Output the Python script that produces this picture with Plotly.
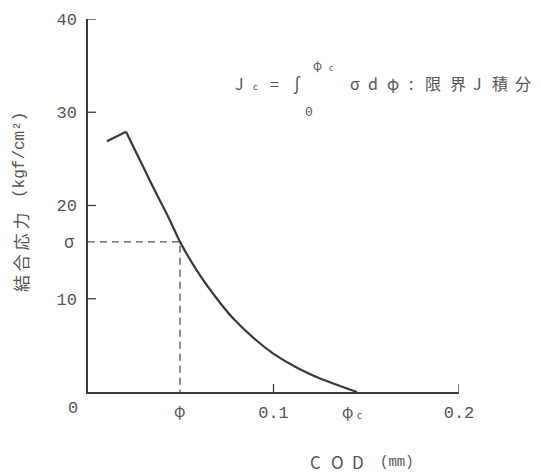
import plotly.graph_objects as go

# Cohesive stress vs. crack opening displacement
rise_cod = [0.0102, 0.0205]
rise_stress = [26.9, 27.9]
fall_cod = [0.0205, 0.035, 0.0442, 0.0496, 0.0604, 0.0695, 0.0782, 0.0889, 0.0997, 0.1127, 0.1251, 0.1358, 0.145]
fall_stress = [27.9, 22.0, 18.4, 16.1, 12.5, 10.0, 7.9, 5.85, 4.15, 2.6, 1.45, 0.65, 0.0]

phi_point = 0.0496
sigma_point = 16.1
phi_c = 0.145

y_ticks = [10, 20, 30, 40]
x_ticks = [0.1, 0.2]
x_ticklabels = ["0.1", "0.2"]

FONT = "Noto Sans CJK JP"
MONO = "Liberation Mono"
INK = "#3a3a3a"
TXT = "#555555"

# plot-area geometry (pixels) used to place free text
L, R, T, B = 88, 459, 19, 392
TICK = 8  # tick length in pixels


def px(xp, yp):
    return (xp - L) / (R - L), (B - yp) / (B - T)


fig = go.Figure()

# dashed guides for sigma at phi
fig.add_trace(go.Scatter(x=[0, phi_point, phi_point], y=[sigma_point, sigma_point, 0],
                         mode="lines", line=dict(color="#555", width=1.3, dash="7px,5px"),
                         hoverinfo="skip", showlegend=False))

fig.add_trace(go.Scatter(x=rise_cod, y=rise_stress, mode="lines",
                         line=dict(color=INK, width=2.2), showlegend=False))
fig.add_trace(go.Scatter(x=fall_cod, y=fall_stress, mode="lines",
                         line=dict(color=INK, width=2.2, shape="spline", smoothing=0.6),
                         showlegend=False))

# inward tick marks on both axes
for v in y_ticks:
    fig.add_shape(type="line", xref="paper", yref="y", x0=0, x1=TICK / (R - L),
                  y0=v, y1=v, line=dict(color=INK, width=1.3))
for v in x_ticks:
    fig.add_shape(type="line", xref="x", yref="paper", x0=v, x1=v,
                  y0=0, y1=TICK / (B - T), line=dict(color=INK, width=1.3))

fig.update_layout(
    width=541, height=474,
    margin=dict(l=L, r=541 - R, t=T, b=474 - B),
    plot_bgcolor="white", paper_bgcolor="white",
    font=dict(family=MONO, color=TXT, size=17),
    xaxis=dict(range=[0, 0.2], showgrid=False, zeroline=False, showline=True,
               linecolor=INK, linewidth=1.5, ticks="", tickvals=x_ticks, ticktext=x_ticklabels,
               ticklabelstandoff=4, tickfont=dict(family=MONO, size=17, color=TXT)),
    yaxis=dict(range=[0, 40], showgrid=False, zeroline=False, showline=True,
               linecolor=INK, linewidth=1.5, ticks="", tickvals=y_ticks,
               ticklabelstandoff=6, tickfont=dict(family=MONO, size=17, color=TXT)),
)


def text(xp, yp, s, size=16, anchor="center", angle=0, family=FONT):
    x, y = px(xp, yp)
    fig.add_annotation(x=x, y=y, xref="paper", yref="paper", text=s, showarrow=False,
                       xanchor=anchor, yanchor="middle", textangle=angle,
                       font=dict(family=family, size=size, color=TXT))


# origin, sigma and phi labels
text(73, 408, "0", size=17, family=MONO)
text(69, 241, "σ", size=17)
text(179, 410, "φ", size=15)
text(347, 411, "φ", size=15)
text(359, 414, "c", size=10)

# y-axis title
text(20, 253, "結 合 応 力", size=17, angle=-90)
text(20, 155, "(kgf/cm²)", size=16, angle=-90, family=MONO)

# x-axis title
for xp, ch in [(315, "C"), (337, "O"), (358, "D")]:
    text(xp, 462, ch, size=17)
text(397, 462, "(mm)", size=14, family=MONO)

# critical J-integral formula
text(239, 83, "J", size=16)
text(255, 86, "c", size=9)
text(274, 83, "=", size=16)
text(297, 84, "∫", size=18)
text(317, 65, "φ", size=12)
text(331, 67, "c", size=8)
text(309, 112, "0", size=13, family=MONO)
for xp, ch in [(355, "σ"), (373, "d"), (393, "φ"), (411, ":"),
               (433, "限"), (458, "界"), (478, "J"), (500, "積"), (523, "分")]:
    text(xp, 83, ch, size=16)

fig.write_html("out.html")
